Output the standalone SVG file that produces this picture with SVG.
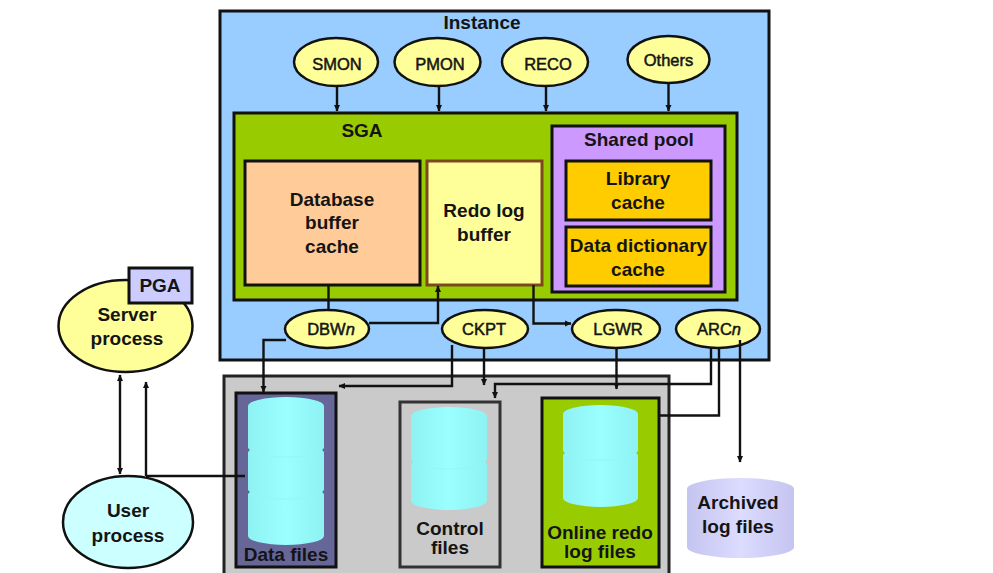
<svg xmlns="http://www.w3.org/2000/svg" width="993" height="573" viewBox="0 0 993 573">
<style>
text{font-family:"Liberation Sans",Arial,sans-serif;fill:#141414;text-anchor:middle}
.t{font-size:19px;font-weight:700}
.p{font-size:16.5px;font-weight:400;stroke:#141414;stroke-width:.5px}
.box{stroke:#111;stroke-width:3}
.proc{fill:#ffff99;stroke:#111;stroke-width:2.5}
.cyl{fill:url(#cy);stroke:none}
.seam{fill:none;stroke:#94f6f6;stroke-width:1}
.c{fill:none;stroke:#111;stroke-width:2.4}
.a{marker-end:url(#ah)}
.b{marker-start:url(#ah);marker-end:url(#ah)}
</style>
<defs>
<marker id="ah" markerUnits="userSpaceOnUse" markerWidth="8" markerHeight="8" refX="6" refY="3.5" orient="auto-start-reverse"><path d="M0 .5L6.500 3.500L0 6.500z" fill="#111"/></marker>
<linearGradient id="cy" x1="0" x2="1" y1="0" y2="0"><stop offset="0" stop-color="#8ff2f2"/><stop offset=".5" stop-color="#9cffff"/><stop offset="1" stop-color="#8ff2f2"/></linearGradient>
<linearGradient id="ar" x1="0" x2="1" y1="0" y2="0"><stop offset="0" stop-color="#c4c4f0"/><stop offset=".5" stop-color="#dcdcff"/><stop offset="1" stop-color="#c4c4f0"/></linearGradient>
</defs>
<rect width="993" height="573" fill="#fff"/>
<g id="instance"><rect x="220" y="11" width="549" height="349" fill="#99ccff" class="box"/><text class="t" x="482" y="29">Instance</text></g>
<g id="sga"><rect x="234" y="113" width="503" height="187" fill="#99cc00" class="box"/><text class="t" x="362" y="137">SGA</text></g>
<g id="db-buffer"><rect x="245" y="161" width="175" height="124" fill="#ffcc99" class="box"/><text class="t" x="332" y="206">Database</text><text class="t" x="332" y="229">buffer</text><text class="t" x="332" y="253">cache</text></g>
<g id="redo-buffer"><rect x="427" y="161" width="115" height="124" fill="#ffff99" stroke="#7a4a1e" stroke-width="3"/><text class="t" x="484" y="217">Redo log</text><text class="t" x="484" y="241">buffer</text></g>
<g id="shared-pool"><rect x="552" y="126" width="173" height="166" fill="#cc99ff" class="box"/><text class="t" x="639" y="146">Shared pool</text></g>
<g id="library-cache"><rect x="566" y="161" width="145" height="59" fill="#ffcc00" class="box"/><text class="t" x="638" y="185">Library</text><text class="t" x="638" y="209">cache</text></g>
<g id="dict-cache"><rect x="566" y="227" width="145" height="59" fill="#ffcc00" class="box"/><text class="t" x="638.500" y="252">Data dictionary</text><text class="t" x="638" y="276">cache</text></g>
<g id="smon"><ellipse cx="336" cy="62" rx="42" ry="24" class="proc"/><text class="p" x="337" y="70">SMON</text></g>
<g id="pmon"><ellipse cx="437.500" cy="62" rx="43" ry="24" class="proc"/><text class="p" x="440" y="70">PMON</text></g>
<g id="reco"><ellipse cx="545" cy="62" rx="43" ry="24" class="proc"/><text class="p" x="548" y="70">RECO</text></g>
<g id="others"><ellipse cx="668.500" cy="59.500" rx="41" ry="23.500" class="proc"/><text class="p" x="668.500" y="66">Others</text></g>
<g id="dbwn"><ellipse cx="327" cy="329" rx="42" ry="19" class="proc"/><text class="p" x="331" y="335">DBW<tspan font-style="italic">n</tspan></text></g>
<g id="ckpt"><ellipse cx="485" cy="329" rx="43" ry="19" class="proc"/><text class="p" x="484" y="335">CKPT</text></g>
<g id="lgwr"><ellipse cx="616" cy="329" rx="44" ry="19" class="proc"/><text class="p" x="618" y="335">LGWR</text></g>
<g id="arcn"><ellipse cx="718" cy="329" rx="42" ry="19" class="proc"/><text class="p" x="719" y="335">ARC<tspan font-style="italic">n</tspan></text></g>
<g id="server-process"><ellipse cx="125.500" cy="326" rx="67" ry="46" class="proc"/><rect x="129" y="268" width="63" height="35" fill="#ccccff" class="box"/><text class="t" x="160" y="292">PGA</text><text class="t" x="127" y="321">Server</text><text class="t" x="127" y="345">process</text></g>
<g id="user-process"><ellipse cx="128" cy="522" rx="65" ry="46" fill="#ccffff" stroke="#111" stroke-width="2.500"/><text class="t" x="128" y="517">User</text><text class="t" x="128" y="542">process</text></g>
<g id="database"><rect x="224" y="376" width="445" height="210" fill="#cacaca" stroke="#222" stroke-width="3"/><text class="t" x="446" y="586">Database</text></g>
<g id="data-files"><rect x="236" y="393" width="100" height="174" fill="#666699" class="box"/><path class="cyl" d="M248 406A38 9 0 0 1 324 406V448L322 450L324 452V490L322 492L324 494V536A38 9 0 0 1 248 536V494L250 492L248 490V452L250 450L248 448Z"/><path class="seam" d="M250 450A36 7 0 0 0 322 450M250 492A36 7 0 0 0 322 492"/><text class="t" x="286" y="561">Data files</text></g>
<g id="control-files"><rect x="400" y="402" width="100" height="165" fill="#cacaca" stroke="#333" stroke-width="3"/><path class="cyl" d="M411 416A38 9 0 0 1 487 416V460L485 462L487 464V501A38 9 0 0 1 411 501V464L413 462L411 460Z"/><path class="seam" d="M413 462A36 7 0 0 0 485 462"/><text class="t" x="450" y="535">Control</text><text class="t" x="450" y="554">files</text></g>
<g id="online-redo"><rect x="542" y="398" width="117" height="169" fill="#99cc00" class="box"/><path class="cyl" d="M563 414A37.500 9 0 0 1 638 414V451L636 453L638 455V498A37.500 9 0 0 1 563 498V455L565 453L563 451Z"/><path class="seam" d="M565 453A35 7 0 0 0 636 453"/><text class="t" x="600" y="539">Online redo</text><text class="t" x="600" y="558">log files</text></g>
<g id="archived"><path fill="url(#ar)" d="M687 489A53.500 11 0 0 1 794 489V547A53.500 11 0 0 1 687 547Z"/><text class="t" x="738" y="509">Archived</text><text class="t" x="738" y="533">log files</text></g>
<g id="connectors">
<path class="c a" d="M337 86V111"/>
<path class="c a" d="M439 86V111"/>
<path class="c a" d="M546 86V111"/>
<path class="c a" d="M668.500 83V111"/>
<path class="c" d="M328.500 285V310"/>
<path class="c a" d="M369 323H438V286"/>
<path class="c a" d="M533.500 285V323.500H571"/>
<path class="c a" d="M286 340H263.500V392"/>
<path class="c a" d="M452 345V386H339"/>
<path class="c a" d="M484 348V385"/>
<path class="c a" d="M616.500 348V389"/>
<path class="c a" d="M711 348V384H495V398"/>
<path class="c" d="M719 348V415.500H660"/>
<path class="c a" d="M740 340V462"/>
<path class="c b" d="M120 375V474"/>
<path class="c a" d="M146 476V382"/>
<path class="c" d="M146 476H245"/>
</g>
</svg>
